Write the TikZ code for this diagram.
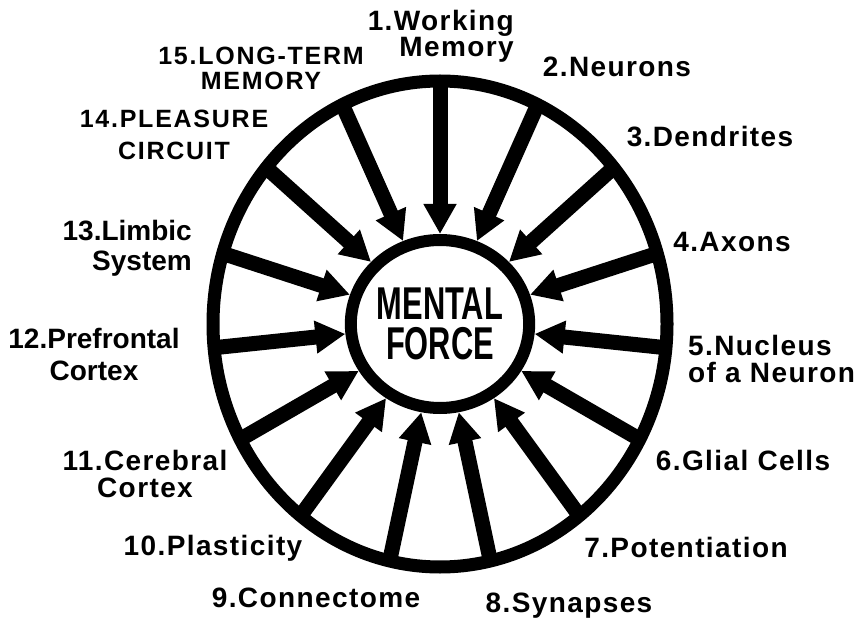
\documentclass[tikz,border=0pt]{standalone}
\usepackage{fontspec}
\usetikzlibrary{arrows.meta, shapes.geometric}
\newfontfamily\lblfont{Liberation Sans}[LetterSpace=5]
\newfontfamily\plainfont{Liberation Sans}
\newfontfamily\capsfont{Liberation Sans}[LetterSpace=7]
\newfontfamily\coreFont{Liberation Sans}[FakeStretch=0.67]
\tikzset{
  ringE/.style={ellipse, draw=black, line width=13pt, inner sep=0pt, outer sep=0pt,
                minimum width=454pt, minimum height=486pt},
  coreE/.style={ellipse, draw=black, line width=12pt, fill=white, inner sep=0pt,
                minimum width=152pt, minimum height=168pt, align=center,
                font=\coreFont\bfseries\fontsize{46}{40}\selectfont},
  inArrow/.style={-{Triangle[length=30pt, width=31pt]}, line width=15pt, black},
  lbl/.style={inner sep=0pt, anchor=north, align=center,
              font=\lblfont\bfseries\fontsize{28}{#1}\selectfont},
  lbl/.default=27,
  lblPlain/.style={lbl=#1, font=\plainfont\bfseries\fontsize{28}{#1}\selectfont},
  lblCaps/.style={lbl=#1, font=\capsfont\bfseries\fontsize{25}{#1}\selectfont},
}
\begin{document}
\begin{tikzpicture}[x=1pt, y=-1pt]
  \path[use as bounding box, fill=white] (0,0) rectangle (862,620);

  \node[ringE] (ring) at (440,324) {};
  \node[coreE] (mf) at (440,324) {MENTAL\\FORCE};

  % fifteen arrows pointing inwards
  \foreach \a in {90,66,...,-246}
    \draw[inArrow] (ring.\a) -- (mf.\a);

  \node[lbl=26, anchor=north east, align=right] (wm) at (514,10) {1.Working\\Memory};
  \node[lbl] (neu) at (617,57) {2.Neurons};
  \node[lbl] (den) at (710,126) {3.Dendrites};
  \node[lbl] (axo) at (732,232) {4.Axons};
  \node[lbl=27, anchor=north west, align=left] (nuc) at (688,335) {5.Nucleus\\of a Neuron};
  \node[lbl] (gli) at (743,450) {6.Glial Cells};
  \node[lbl] (pot) at (686,537) {7.Potentiation};
  \node[lbl] (syn) at (569,593) {8.Synapses};
  \node[lbl] (con) at (316,588) {9.Connectome};
  \node[lbl] (pla) at (213,535) {10.Plasticity};
  \node[lbl=27] (cer) at (145,450) {11.Cerebral\\Cortex};
  \node[lblPlain=32] (pre) at (94,328) {12.Prefrontal\\Cortex};
  \node[lblPlain=30, anchor=north east, align=right] (lim) at (192,220) {13.Limbic\\System};
  \node[lblCaps=32] (ple) at (174,110) {14.PLEASURE\\CIRCUIT};
  \node[lblCaps=25] (ltm) at (261,47) {15.LONG-TERM\\MEMORY};
\end{tikzpicture}
\end{document}
